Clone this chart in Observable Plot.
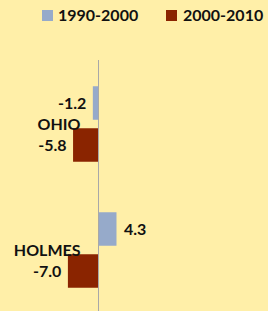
<!DOCTYPE html>
<html>
<head>
<meta charset="utf-8">
<script src="https://cdn.jsdelivr.net/npm/d3@7"></script>
<script src="https://cdn.jsdelivr.net/npm/@observablehq/plot@0.6"></script>
<style>
  html, body { margin: 0; padding: 0; background: #FFEFA8; }
  #wrap { width: 268px; height: 311px; background: #FFEFA8; font-family: Lato, "Open Sans", sans-serif; font-weight: bold; color: #111; }
  #legend { position: relative; height: 30px; font-size: 16px; }
  .sw { position: absolute; top: 10px; width: 11px; height: 11px; }
  .lb { position: absolute; top: 5px; line-height: 20px; }
  svg { display: block; }
</style>
</head>
<body>
<div id="wrap">
  <div id="legend"></div>
  <div id="chart"></div>
</div>
<script>
const counties = ["OHIO", "HOLMES"];
const periods = ["1990-2000", "2000-2010"];
const ohioValues = [-1.2, -5.8];
const holmesValues = [4.3, -7.0];
const periodColors = ["#96AACA", "#8A2400"];

const seriesByCounty = [ohioValues, holmesValues];
const key = (c, p) => c + "|" + p;
const data = counties.flatMap((c, i) =>
  periods.map((p, j) => ({county: c, period: p, key: key(c, p), value: seriesByCounty[i][j]}))
);
// band domain: the bars of each county, with an empty slot between counties
const yDomain = counties.flatMap((c, i) => [
  ...periods.map(p => key(c, p)),
  ...(i < counties.length - 1 ? ["gap" + i] : [])
]);

// legend
const legend = document.getElementById("legend");
const legendPos = [[42, 58], [166, 183]];
periods.forEach((p, i) => {
  const sw = document.createElement("div");
  sw.className = "sw";
  sw.style.left = legendPos[i][0] + "px";
  sw.style.background = periodColors[i];
  legend.appendChild(sw);
  const lb = document.createElement("div");
  lb.className = "lb";
  lb.style.left = legendPos[i][1] + "px";
  lb.textContent = p;
  legend.appendChild(lb);
});

const pxPerUnit = 4.3;
const step = 42.5;
const chart = Plot.plot({
  width: 268,
  height: 281,
  marginTop: 30,
  marginBottom: 0,
  marginLeft: 0,
  marginRight: 0,
  style: {background: "transparent", fontFamily: "Lato, 'Open Sans', sans-serif", fontWeight: "bold", fontSize: "16px", color: "#111"},
  x: {domain: [-98 / pxPerUnit, 170 / pxPerUnit], axis: null},
  y: {domain: yDomain, axis: null, padding: 0, range: [50.75, 50.75 + step * yDomain.length]},
  color: {domain: periods, range: periodColors},
  marks: [
    Plot.barX(data, {x: "value", y: "key", fill: "period", insetTop: 4.25, insetBottom: 4.25}),
    Plot.ruleX([0], {stroke: "#A8A8A8", strokeWidth: 1}),
    Plot.text(data.filter(d => d.value < 0), {x: "value", y: "key", text: d => d.value.toFixed(1), textAnchor: "end", dx: -7, fill: "#111"}),
    Plot.text(data.filter(d => d.value >= 0), {x: "value", y: "key", text: d => d.value.toFixed(1), textAnchor: "start", dx: 7, fill: "#111"}),
    Plot.text(counties.map(c => ({county: c, key: key(c, periods[0])})), {x: () => 0, y: "key", text: "county", textAnchor: "end", dx: -18, dy: step / 2, fill: "#111"})
  ]
});
document.getElementById("chart").appendChild(chart);
</script>
</body>
</html>
